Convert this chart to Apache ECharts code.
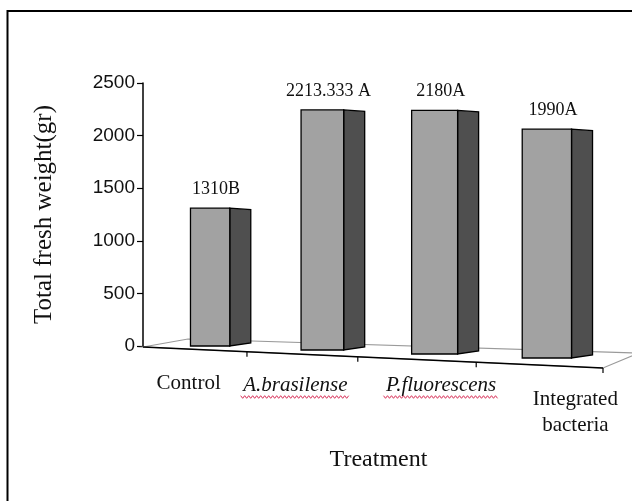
<!DOCTYPE html>
<html>
<head>
<meta charset="utf-8">
<script src="https://cdn.jsdelivr.net/npm/echarts@6/dist/echarts.min.js"></script>
<style>
  html, body { margin: 0; padding: 0; background: #fff; }
  #chart { width: 632px; height: 501px; }
</style>
</head>
<body>
<div id="chart"></div>
<script>
// ---- data ----
const categories = ['Control', 'A.brasilense', 'P.fluorescens', 'Integrated\nbacteria'];
const freshWeight = [1310, 2213.333, 2180, 1990];
const groupLetters = ['B', 'A', 'A', 'A'];
const letterSpacer = ['', ' ', '', ''];
const yTicks = [0, 500, 1000, 1500, 2000, 2500];
const italicCategory = [false, true, true, false];

// ---- look ----
const SERIF = '"Liberation Serif", "Times New Roman", serif';
const SANS = '"Liberation Sans", Arial, sans-serif';
const AXIS_OFFSET = 11;            // value axis sits left of the plot box
const GROW = 0.031;                // bars to the right are drawn slightly taller
const SAG = 4;                     // ...and stand a little lower on the floor
const WIDEN = 0.085;               // ...and a little wider
const SIDE_W = 21;                 // depth face width
const LABEL_SHIFT = [-21.5, -27, 6.5, 28.5];  // horizontal nudge of category labels
const LABEL_DROP = [0, 2, 2, 16];              // vertical nudge of category labels
const FRONT_DROP = 21;             // floor front edge falls to the right
const PERSPECTIVE = 0.124;         // spacing of floor ticks

const chart = echarts.init(document.getElementById('chart'), null, { renderer: 'canvas' });

// category label styles (rich text for per-label placement)
const rich = {};
categories.forEach((c, i) => {
  const s = LABEL_SHIFT[i];
  const left = s > 0 ? 2 * s : 0, right = s < 0 ? -2 * s : 0;
  const base = {
    fontFamily: SERIF, fontSize: 21, color: '#111',
    fontStyle: italicCategory[i] ? 'italic' : 'normal'
  };
  rich['f' + i] = Object.assign({}, base, { padding: [LABEL_DROP[i], right, 0, left] });
  rich['n' + i] = Object.assign({}, base, { padding: [0, right, 0, left], lineHeight: 30 });
});

const measureCtx = document.createElement('canvas').getContext('2d');
function textWidth(str, italic) {
  measureCtx.font = (italic ? 'italic ' : '') + '21px ' + SERIF;
  return measureCtx.measureText(str).width;
}

function renderFloor(params, api) {
  const cs = params.coordSys;
  const x0 = cs.x - AXIS_OFFSET, y0 = cs.y + cs.height + 1;
  const x1 = cs.x + cs.width;
  const FL = [x0, y0], FR = [x1, y0 + FRONT_DROP];
  const BL = [x0 + 45, y0 - 8], BR = [x1 + 36, y0 + 6];
  const children = [
    { type: 'polygon', shape: { points: [FL, BL, BR, FR] },
      style: { fill: '#fff', stroke: '#9a9a9a', lineWidth: 1.2 } },
    { type: 'line', shape: { x1: FL[0], y1: FL[1], x2: FR[0], y2: FR[1] },
      style: { stroke: '#000', lineWidth: 1.6 } }
  ];
  const n = categories.length;
  for (let k = 1; k <= n; k++) {
    const t = k / n;
    const f = t * (1 - PERSPECTIVE) / (1 - PERSPECTIVE * t);
    const x = x0 + (x1 - x0) * f;
    const y = y0 + FRONT_DROP * f;
    children.push({ type: 'line', shape: { x1: x, y1: y, x2: x, y2: y + 5 },
      style: { stroke: '#000', lineWidth: 1.2 } });
  }
  // spelling squiggles under the species names
  categories.forEach((c, i) => {
    if (!italicCategory[i]) return;
    const cx = api.coord([i, 0])[0] + LABEL_SHIFT[i];
    const w = textWidth(c, true) + 5;
    const pts = [];
    for (let x = cx - w / 2, s = 0; x <= cx + w / 2; x += 2, s++) {
      pts.push([x, y0 + 50 + (s % 2 ? 1.3 : -1.3)]);
    }
    children.push({ type: 'polyline', shape: { points: pts },
      style: { stroke: '#d8325a', lineWidth: 1, fill: null } });
  });
  return { type: 'group', children };
}

function renderBar(params, api) {
  const i = api.value(0), v = api.value(1);
  const base = api.coord([i, 0]);
  const top = api.coord([i, v]);
  const band = api.size([1, 0])[0];
  const yb = base[1] + SAG * i;
  const h = (base[1] - top[1]) * (1 + GROW * i);
  const yt = yb - h;
  const w = band * 0.35 * (1 + WIDEN * i);
  const xl = base[0] - w / 2, xr = base[0] + w / 2;
  const label = String(v) + letterSpacer[params.dataIndex] + groupLetters[params.dataIndex];
  return {
    type: 'group',
    children: [
      { type: 'polygon',
        shape: { points: [[xr, yt], [xr + SIDE_W, yt + 1.5], [xr + SIDE_W, yb - 3], [xr, yb]] },
        style: { fill: '#4f4f4f', stroke: '#000', lineWidth: 1.3 } },
      { type: 'rect', shape: { x: xl, y: yt, width: w, height: h },
        style: { fill: '#a2a2a2', stroke: '#000', lineWidth: 1.3 } },
      { type: 'text', x: base[0] + 6, y: yt - 19,
        style: { text: label, fontFamily: SERIF, fontSize: 18, fill: '#111',
                 align: 'center', verticalAlign: 'middle' } }
    ]
  };
}

const option = {
  backgroundColor: '#fff',
  animation: false,
  graphic: [{
    type: 'rect', silent: true, z: 100,
    shape: { x: 7.5, y: 11, width: 700, height: 600 },
    style: { fill: null, stroke: '#000', lineWidth: 2 }
  }],
  grid: { left: 154, right: 29, top: 83, bottom: 155 },
  xAxis: {
    type: 'category',
    data: categories,
    boundaryGap: true,
    axisLine: { show: false },
    axisTick: { show: false },
    axisLabel: {
      interval: 0, margin: 27,
      formatter: (val, idx) => val.split('\n').map((ln, k) => `{${k ? 'n' : 'f'}${idx}|${ln}}`).join('\n'),
      rich
    },
    name: 'Treatment',
    nameLocation: 'middle',
    nameGap: 102,
    nameTextStyle: { fontFamily: SERIF, fontSize: 24, color: '#111' }
  },
  yAxis: {
    type: 'value',
    min: yTicks[0],
    max: yTicks[yTicks.length - 1],
    interval: yTicks[1] - yTicks[0],
    offset: AXIS_OFFSET,
    splitLine: { show: false },
    axisLine: { show: true, lineStyle: { color: '#000', width: 1.5 } },
    axisTick: { show: true, length: 6, lineStyle: { color: '#000', width: 1.2 } },
    axisLabel: { margin: 8, fontFamily: SANS, fontSize: 19, color: '#111',
                 formatter: (v) => String(v) },
    name: 'Total fresh weight(gr)',
    nameLocation: 'middle',
    nameRotate: 90,
    nameGap: 86,
    nameTextStyle: { fontFamily: SERIF, fontSize: 25, color: '#111' }
  },
  series: [
    {
      type: 'custom', name: 'floor', z: 1, silent: true,
      data: [[0, 0]],
      renderItem: renderFloor
    },
    {
      type: 'custom', name: 'Total fresh weight', z: 2,
      data: freshWeight.map((v, i) => [i, v]),
      encode: { x: 0, y: 1 },
      renderItem: renderBar
    }
  ]
};

chart.setOption(option);
</script>
</body>
</html>
